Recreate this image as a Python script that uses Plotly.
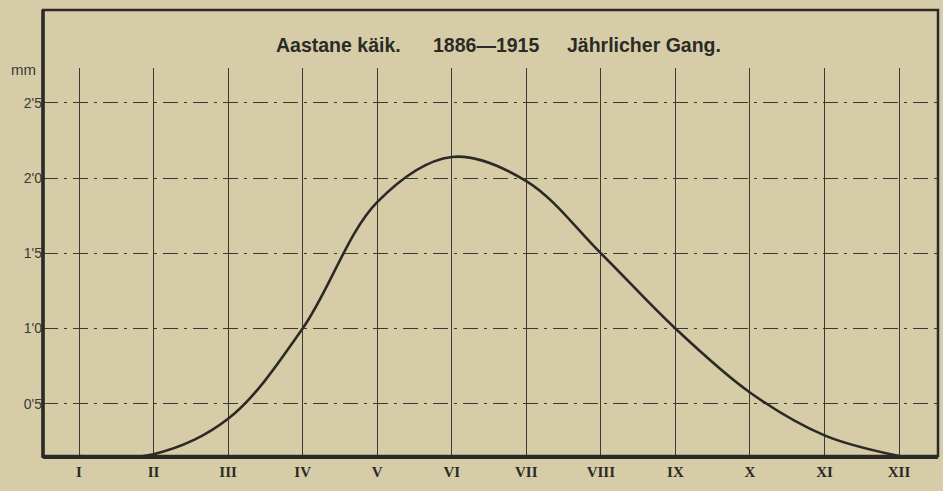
import plotly.graph_objects as go

months = ["I", "II", "III", "IV", "V", "VI", "VII", "VIII", "IX", "X", "XI", "XII"]
month_pos = [1, 2, 3, 4, 5, 6, 7, 8, 9, 10, 11, 12]
values = [0.153, 0.165, 0.40, 1.0, 1.84, 2.14, 1.98, 1.50, 1.0, 0.575, 0.29, 0.153]
ytick_vals = [0.5, 1.0, 1.5, 2.0, 2.5]
ytick_text = ["0'5", "1'0", "1'5", "2'0", "2'5"]
title_parts = ["Aastane käik.", "1886—1915", "Jährlicher Gang."]
title_x = [0.3307, 0.4950, 0.6715]

bg = "#d6cda8"
ink = "#2b2a26"
sans = "Liberation Sans, Arial, sans-serif"

fig = go.Figure()
fig.add_trace(go.Scatter(
    x=month_pos, y=values, mode="lines",
    line=dict(color=ink, width=2.6, shape="spline", smoothing=1.0),
    hoverinfo="skip", showlegend=False,
))

annotations = [
    dict(text=t, xref="paper", yref="paper", x=x, y=1.0593,
         showarrow=False, xanchor="center", yanchor="middle",
         font=dict(size=19.5, family=sans, color=ink, weight=700))
    for t, x in zip(title_parts, title_x)
]
annotations.append(
    dict(text="mm", xref="paper", yref="paper", x=-0.006, y=0.995,
         showarrow=False, xanchor="right", yanchor="middle",
         font=dict(size=15, family=sans, color="#3a3933"))
)

fig.update_layout(
    width=943, height=491,
    margin=dict(l=43, r=5, t=68, b=35),
    paper_bgcolor=bg, plot_bgcolor=bg,
    font=dict(family="Liberation Serif, DejaVu Serif, serif", color=ink),
    showlegend=False,
    xaxis=dict(
        range=[0.517, 12.523], tickmode="array", tickvals=month_pos, ticktext=months,
        showgrid=True, gridcolor="#3a3933", gridwidth=1, griddash="solid",
        zeroline=False, showline=True, linecolor=ink, linewidth=3,
        ticks="", tickfont=dict(size=15, family="Liberation Serif, serif", color=ink, weight=700),
        fixedrange=True,
    ),
    yaxis=dict(
        range=[0.153, 2.731], tickmode="array", tickvals=ytick_vals, ticktext=ytick_text,
        showgrid=True, gridcolor="#3a3933", gridwidth=1, griddash="longdashdot",
        zeroline=False, showline=False, ticks="",
        tickfont=dict(size=14, family=sans, color="#3a3933"),
        fixedrange=True,
    ),
    shapes=[
        dict(type="rect", xref="paper", yref="paper", x0=0, x1=1, y0=0, y1=1.1495,
             line=dict(color=ink, width=2.5), fillcolor="rgba(0,0,0,0)", layer="above"),
        dict(type="line", xref="paper", yref="paper", x0=0, x1=0, y0=-0.005, y1=1.1495,
             line=dict(color=ink, width=3.5), layer="above"),
    ],
    annotations=annotations,
)

fig.write_html("out.html", config={"displayModeBar": False},
               post_script="document.body.style.margin='0';")
